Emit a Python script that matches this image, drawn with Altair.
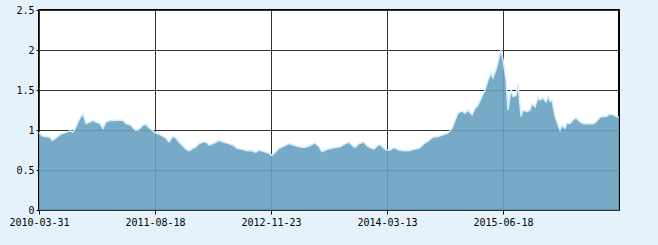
import altair as alt
import pandas as pd

# observation index (one unit per trading slot) and value
obs = [0, 1, 4, 11, 13, 17, 22, 27, 31, 34, 37, 39, 42, 44, 47, 51, 54, 57, 61, 64,
       67, 71, 76, 81, 84, 87, 92, 96, 99, 104, 107, 110, 114, 117, 120, 124, 127, 130,
       134, 137, 140, 144, 147, 150, 154, 157, 160, 164, 167, 170, 174, 177, 180, 184,
       187, 190, 194, 198, 203, 208, 213, 217, 220, 225, 230, 233, 237, 240, 245, 250,
       255, 260, 265, 270, 276, 280, 283, 288, 292, 296, 301, 305, 310, 313, 316, 320,
       325, 328, 331, 335, 338, 341, 345, 348, 351, 355, 360, 365, 370, 375, 380, 385,
       389, 394, 399, 404, 409, 413, 416, 419, 423, 426, 429, 433, 436, 439, 443, 446,
       449, 452, 454, 458, 460, 462, 464, 467, 469, 472, 474, 477, 479, 482, 484, 488,
       491, 493, 496, 499, 501, 504, 507, 509, 511, 513, 516, 518, 521, 523, 526, 528,
       531, 534, 537, 541, 544, 547, 551, 554, 557, 561, 564, 567, 571, 574, 577, 580]
value = [0.97, 0.95, 0.92, 0.91, 0.87, 0.90, 0.95, 0.97, 0.99, 0.975, 1.04, 1.10, 1.17, 1.20,
         1.08, 1.10, 1.12, 1.10, 1.08, 1.02, 1.10, 1.12, 1.12, 1.125, 1.12, 1.08, 1.06, 1.00,
         1.00, 1.06, 1.07, 1.03, 0.99, 0.96, 0.95, 0.92, 0.90, 0.85, 0.92, 0.90, 0.85, 0.80,
         0.76, 0.74, 0.77, 0.79, 0.83, 0.85, 0.85, 0.81, 0.83, 0.85, 0.87, 0.85, 0.84, 0.83,
         0.81, 0.77, 0.76, 0.74, 0.74, 0.72, 0.75, 0.73, 0.71, 0.68, 0.73, 0.77, 0.80, 0.83,
         0.81, 0.79, 0.78, 0.80, 0.84, 0.79, 0.73, 0.76, 0.77, 0.78, 0.79, 0.82, 0.85, 0.81,
         0.78, 0.83, 0.85, 0.80, 0.78, 0.76, 0.80, 0.82, 0.77, 0.75, 0.75, 0.78, 0.75, 0.74,
         0.74, 0.76, 0.77, 0.83, 0.86, 0.91, 0.92, 0.94, 0.96, 1.02, 1.12, 1.21, 1.24, 1.21,
         1.25, 1.19, 1.27, 1.31, 1.42, 1.50, 1.62, 1.71, 1.65, 1.79, 1.90, 2.00, 1.875, 1.625,
         1.25, 1.50, 1.42, 1.43, 1.58, 1.17, 1.25, 1.23, 1.25, 1.33, 1.29, 1.40, 1.375, 1.40,
         1.35, 1.42, 1.36, 1.375, 1.17, 1.10, 1.00, 1.06, 1.02, 1.09, 1.08, 1.125, 1.15, 1.10,
         1.08, 1.075, 1.08, 1.075, 1.10, 1.16, 1.17, 1.17, 1.20, 1.19, 1.17, 1.16]

tick_positions = [0, 116, 232, 348, 464]
tick_labels = ["2010-03-31", "2011-08-18", "2012-11-23", "2014-03-13", "2015-06-18"]
y_ticks = [0, 0.5, 1, 1.5, 2, 2.5]

df = pd.DataFrame({"obs": obs, "value": value})

label_expr = ""
for p, l in zip(tick_positions, tick_labels):
    label_expr += f"datum.value == {p} ? '{l}' : "
label_expr += "''"

FONT = "DejaVu Sans Mono"

x_enc = alt.X("obs:Q", scale=alt.Scale(domain=[0, 580], nice=False, zero=False),
              axis=alt.Axis(values=tick_positions, labelExpr=label_expr, title=None,
                            grid=True, gridColor="#333333", gridWidth=1,
                            tickColor="#000000", tickSize=4, domain=False,
                            labelFont=FONT, labelFontSize=10, labelColor="#000000",
                            labelPadding=3, labelFlush=False, labelOverlap=False))
y_enc = alt.Y("value:Q", scale=alt.Scale(domain=[0, 2.5], nice=False),
              axis=alt.Axis(values=y_ticks, labelExpr="'' + datum.value", title=None,
                            grid=True, gridColor="#333333", gridWidth=1,
                            tickColor="#000000", tickSize=3, domain=False,
                            labelFont=FONT, labelFontSize=10, labelColor="#000000",
                            labelPadding=2, labelOverlap=False, labelFlush=False))

base = alt.Chart(df).encode(x=x_enc, y=y_enc)
area = base.mark_area(color="#67a1c0", opacity=0.9, interpolate="linear")
edge = base.mark_line(color="#d6ecf9", strokeWidth=1.5)

chart = alt.layer(area, edge).properties(
    width=580, height=200,
    background="#e6f2fb",
    autosize=alt.AutoSizeParams(type="none"),
    padding={"left": 39, "top": 10, "right": 39, "bottom": 35},
).configure_view(fill="#ffffff", stroke="#000000", strokeWidth=2)

chart.save("out.html", embed_options={"renderer": "svg", "actions": False})
